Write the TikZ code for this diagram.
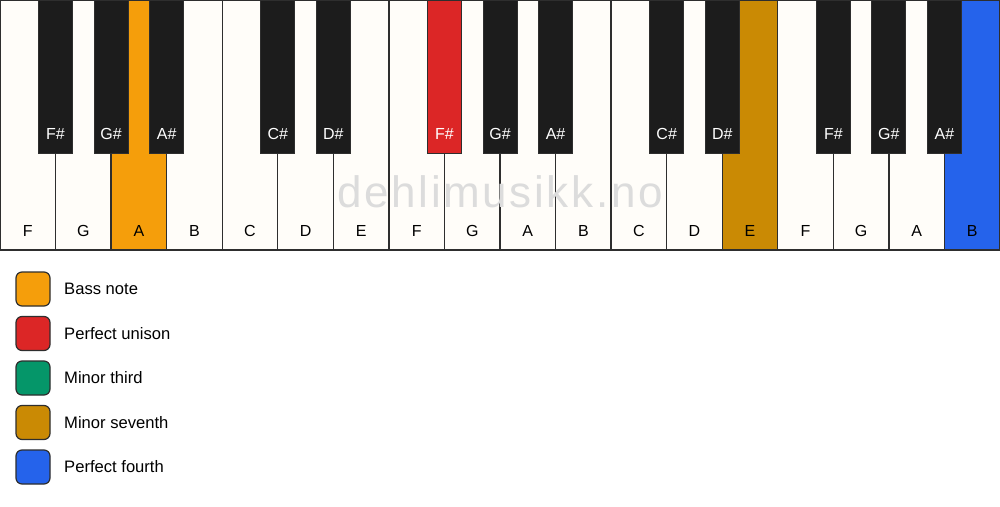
\documentclass[tikz,border=0pt]{standalone}
\usepackage{fontspec}
\setmainfont{Liberation Sans}
\newfontfamily\wmfont[LetterSpace=6]{Liberation Sans}
\definecolor{keywhite}{HTML}{FFFDF9}
\definecolor{keyblack}{HTML}{1C1C1C}
\definecolor{keyline}{HTML}{2E2E2E}
\definecolor{cbass}{HTML}{F59E0B}
\definecolor{cunison}{HTML}{DC2626}
\definecolor{cthird}{HTML}{059669}
\definecolor{cseventh}{HTML}{CA8A04}
\definecolor{cfourth}{HTML}{2563EB}
\definecolor{wmgray}{HTML}{DCDCDC}
\begin{document}
\begin{tikzpicture}[x=1pt,y=-1pt,
  whitekey/.style={draw=keyline,line width=1.4pt},
  blackkey/.style={draw=keyline,line width=1pt,fill=keyblack},
  wlabel/.style={font=\fontsize{16}{16}\selectfont,text=black,anchor=base},
  blabel/.style={font=\fontsize{16}{16}\selectfont,text=white,anchor=base},
  swatch/.style={draw=keyline,line width=1.2pt,rounded corners=6pt,minimum width=34pt,minimum height=34pt,inner sep=0pt},
  legtext/.style={font=\fontsize{16.6}{16.6}\selectfont,anchor=west,inner sep=0pt}]
\useasboundingbox (0,0) rectangle (1000,506);
\fill[white] (0,0) rectangle (1000,506);
\def\kw{55.5556}
% white keys
\foreach \n/\i/\c in {F/0/keywhite,G/1/keywhite,A/2/cbass,B/3/keywhite,C/4/keywhite,D/5/keywhite,E/6/keywhite,F/7/keywhite,G/8/keywhite,A/9/keywhite,B/10/keywhite,C/11/keywhite,D/12/keywhite,E/13/cseventh,F/14/keywhite,G/15/keywhite,A/16/keywhite,B/17/cfourth}{
  \path[whitekey,fill=\c] ({\i*\kw},0) rectangle ({(\i+1)*\kw},250);
  \node[wlabel] (w\i) at ({(\i+0.5)*\kw},236) {\n};
}
% watermark
\node[font=\wmfont\fontsize{44}{44}\selectfont,text=wmgray,anchor=base] (wm) at (500,207) {dehlimusikk.no};
% black keys
\foreach \n/\k/\c/\t in {F\#/1/keyblack/white,G\#/2/keyblack/white,A\#/3/keyblack/white,C\#/5/keyblack/white,D\#/6/keyblack/white,F\#/8/cunison/white,G\#/9/keyblack/white,A\#/10/keyblack/white,C\#/12/keyblack/white,D\#/13/keyblack/white,F\#/15/keyblack/white,G\#/16/keyblack/white,A\#/17/keyblack/white}{
  \path[blackkey,fill=\c] ({\k*\kw-17},0) rectangle ({\k*\kw+17},153);
  \node[blabel,text=\t] (b\k) at ({\k*\kw},139) {\n};
}
% legend
\foreach \y/\c/\t [count=\j] in {289/cbass/Bass note,333.5/cunison/Perfect unison,378/cthird/Minor third,422.5/cseventh/Minor seventh,467/cfourth/Perfect fourth}{
  \node[swatch,fill=\c] (s\j) at (33,\y) {};
  \node[legtext] (l\j) at (64,\y) {\t};
}
\end{tikzpicture}
\end{document}
